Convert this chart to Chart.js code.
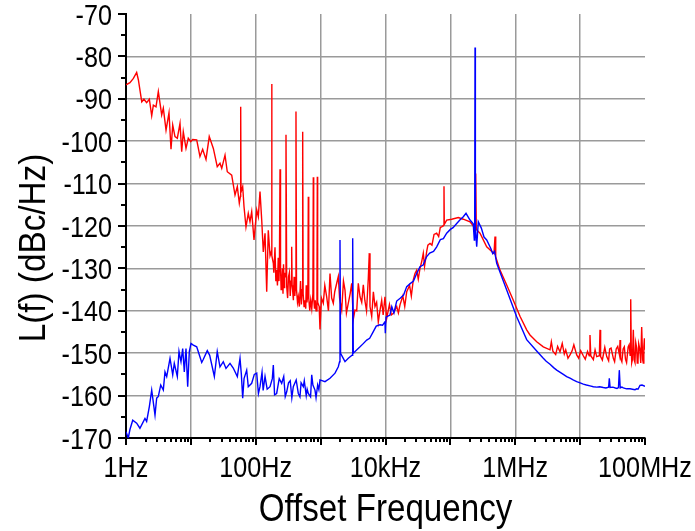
<!DOCTYPE html>
<html>
<head>
<meta charset="utf-8">
<script src="https://cdn.jsdelivr.net/npm/chart.js@4/dist/chart.umd.min.js"></script>
<style>
    body { margin: 0; background: #fff; }
    #wrap { width: 695px; height: 531px; }
</style>
</head>
<body>
<div id="wrap"><canvas id="noiseChart" width="695" height="531"></canvas></div>
<script>
const FONT = "'Liberation Sans', Arial, sans-serif";

// Offset frequency (Hz), phase noise (dBc/Hz)
const redTrace = [
    [1, -86.7], [1.15, -86.2], [1.3, -85.2], [1.46, -83.8], [1.55, -85.5], [1.75, -90.7], [1.89, -90.1],
    [2.08, -90.9], [2.29, -90.1], [2.49, -94.0], [2.64, -91.5], [2.9, -91.9], [3.15, -88.3], [3.55, -93.8],
    [3.76, -92.2], [4.14, -97.4], [4.6, -93.3], [4.94, -101.9], [5.25, -96.2], [5.69, -98.9], [6.18, -99.3],
    [6.8, -95.8], [7.22, -102.5], [7.64, -97.8], [8.41, -101.7], [9.12, -99.3], [9.94, -100.1], [10.67, -99.6],
    [12.3, -99.7], [13.8, -103.6], [15.2, -101.9], [17.1, -104.3], [19.2, -98.9], [22.2, -101.7], [25.5, -106.0],
    [28.1, -105.2], [29.9, -106.4], [33.6, -103.3], [36.4, -107.2], [42.6, -108.0], [47.9, -112.7], [52.0, -110.7],
    [55.8, -114.6], [58.0, -113.0], [58.6, -91.9], [59.3, -112.0], [62.9, -110.7], [65.9, -115.4], [70.7, -120.2],
    [76.7, -117.0], [81.5, -119.0], [86.6, -116.6], [94.0, -123.3], [103.5, -116.2], [109.5, -117.8], [116.3, -111.9],
    [123.6, -118.6], [130.7, -126.1], [139, -121.7], [147.5, -135.5], [156, -121.0], [166, -127.0], [174, -126.0],
    [176, -86.5], [178, -127.0], [186.6, -128.8], [190, -131.0], [198, -125.0], [204, -133.0], [210, -130.4],
    [216, -134.0], [222, -127.5], [228, -133.0], [232, -128.0], [236.6, -106.6], [241, -130.0], [246, -135.0],
    [251, -133.5], [258, -130.0], [263, -136.0], [268, -129.0], [274, -134.5], [279, -131.0], [285, -132.0],
    [292.6, -98.5], [300, -134.3], [310, -137.0], [320, -132.0], [330, -131.0], [340, -136.5], [350, -133.0],
    [358, -124.9], [364, -134.0], [370, -135.1], [380, -137.5], [390, -132.0], [400, -136.5], [410, -134.0],
    [417, -93.0], [425, -135.0], [440, -138.0], [453, -136.7], [470, -139.0], [490, -133.0], [505, -138.5],
    [520, -135.0], [529, -97.8], [538, -136.0], [555, -139.0], [574, -137.5], [590, -139.5], [600, -134.0],
    [615, -138.0], [636, -136.0], [646, -113.1], [656, -137.0], [680, -140.0], [703, -137.5], [730, -139.5],
    [760, -136.0], [771, -108.5], [782, -137.0], [805, -139.5], [828, -137.5], [850, -140.0], [878, -136.0],
    [889, -108.4], [900, -138.0], [950, -139.0], [978, -144.4], [1030, -137.0], [1099, -138.2], [1160, -134.0],
    [1240, -136.7], [1320, -140.0], [1395, -131.2], [1480, -137.0], [1568, -138.2], [1650, -135.5], [1770, -133.5],
    [1873, -131.9], [1960, -137.0], [2113, -139.8], [2250, -133.0], [2375, -135.1], [2500, -140.5], [2671, -138.2],
    [2850, -136.0], [3014, -133.5], [3190, -142.0], [3388, -139.8], [3600, -140.0], [3808, -133.5], [4048, -136.7],
    [4300, -138.0], [4550, -133.9], [4800, -137.5], [5100, -140.0], [5430, -132.4], [5625, -126.4], [5768, -139.0],
    [6126, -141.3], [6500, -135.5], [6887, -139.0], [7300, -138.0], [7745, -142.6], [8200, -140.0], [8735, -137.5],
    [9200, -141.0], [9816, -136.7], [10430, -141.8], [11500, -138.5], [12300, -141.0], [13190, -140.6], [14880, -139.0],
    [15800, -140.5], [16730, -138.6], [18500, -136.5], [19800, -139.0], [21230, -135.5], [23500, -134.0], [25000, -136.5],
    [26810, -132.7], [28500, -131.2], [30260, -130.4], [32000, -132.5], [34020, -130.0], [36000, -128.5], [38260, -126.4],
    [40000, -129.5], [43160, -126.0], [45000, -124.5], [48530, -124.1], [52000, -124.5], [56000, -122.0], [61520, -121.7],
    [66000, -122.5], [70000, -120.3], [73470, -120.2], [79000, -119.8], [79750, -110.6], [80560, -119.6], [87720, -118.6],
    [104800, -118.4], [132500, -118.0], [158200, -118.4], [200800, -119.0], [240000, -120.5], [245600, -107.6],
    [251000, -120.8], [286100, -121.7], [363000, -124.9], [470000, -126.5], [487600, -122.5], [500000, -127.3],
    [582200, -130.4], [738400, -133.9], [933400, -137.5], [1183000, -141.3], [1500000, -144.5], [1687000, -145.7],
    [2141000, -147.3], [2706000, -148.5], [3434000, -149.2], [3600000, -147.3], [3800000, -149.5], [4200000, -150.3],
    [4500000, -148.4], [4898000, -149.7], [5300000, -147.7], [5700000, -150.2], [6000000, -149.2], [6500000, -151.2],
    [6984000, -150.4], [7500000, -149.5], [8000000, -148.0], [8855000, -150.4], [9500000, -151.2], [10200000, -149.4],
    [11190000, -150.6], [12000000, -151.4], [13000000, -149.6], [13800000, -150.6], [14190000, -145.7], [14600000, -150.6],
    [16000000, -151.5], [17000000, -149.2], [18020000, -150.8], [19800000, -150.6], [20250000, -144.5], [20700000, -150.8],
    [22000000, -151.6], [24000000, -148.6], [25700000, -150.8], [27500000, -151.8], [28500000, -149.0], [30000000, -148.8],
    [32500000, -151.2], [34000000, -152.0], [36000000, -149.0], [38000000, -148.4], [40500000, -150.5], [41210000, -146.9],
    [42000000, -151.2], [44000000, -152.0], [46000000, -149.0], [48000000, -148.5], [50000000, -151.4], [52000000, -152.2],
    [55000000, -148.5], [57000000, -148.0], [59000000, -150.5], [60250000, -137.3], [61500000, -149.5], [62500000, -152.2],
    [64000000, -151.5], [66070000, -144.5], [68000000, -151.6], [70000000, -152.2], [72000000, -147.5], [74480000, -148.8],
    [76000000, -152.3], [78000000, -151.8], [80000000, -147.8], [83000000, -149.0], [86000000, -152.3], [88900000, -143.8],
    [92000000, -151.5], [94000000, -152.3], [96000000, -148.5], [98000000, -146.5], [100000000, -149.2]
];

const blueTrace = [
    [1, -168.5], [1.085, -170], [1.15, -168], [1.27, -165.8], [1.46, -166.5], [1.64, -167.7], [1.96, -165.4],
    [2.08, -166.1], [2.29, -162.6], [2.49, -158.7], [2.8, -164.6], [2.97, -160.6], [3.15, -160.2], [3.43, -157.5],
    [3.76, -158.7], [3.99, -154.4], [4.24, -155.5], [4.77, -151.2], [5.25, -155.1], [5.55, -152.4], [6.18, -155.5],
    [6.56, -149.6], [7.04, -152.0], [7.48, -148.9], [7.92, -154.4], [8.41, -148.9], [8.93, -157.9], [9.46, -149.6],
    [10.05, -147.7], [10.9, -148.1], [12.3, -148.5], [14.7, -152.2], [15.5, -151.5], [17.9, -149.4], [19.5, -150.5],
    [23.0, -155.5], [25.5, -149.6], [28.1, -153.2], [31.6, -152.0], [34.8, -153.6], [40.1, -152.4], [45, -153.5],
    [52, -155.5], [57.2, -151.2], [60, -155.0], [62.9, -160.6], [66, -156.0], [72.5, -154.0], [76.7, -157.9],
    [86.6, -157.1], [95, -155.0], [103.5, -154.7], [110, -159.5], [116.3, -157.9], [125, -154.5], [130, -158.8],
    [139, -155.5], [150, -158.5], [166, -157.9], [180, -156.0], [186.6, -152.8], [195, -159.8], [210, -159.5],
    [230, -156.0], [251, -157.1], [270, -155.5], [285, -160.2], [300, -159.1], [320, -157.0], [340, -156.5],
    [360, -160.5], [379, -157.9], [420, -156.3], [453, -159.5], [480, -160.3], [500, -157.0], [541, -157.9],
    [560, -156.5], [600, -160.0], [620, -158.5], [646, -159.5], [700, -160.3], [729, -155.1], [760, -157.5],
    [819, -158.7], [850, -160.5], [900, -157.5], [940, -158.6], [978, -156.3], [1167, -156.7], [1395, -155.9],
    [1667, -154.7], [1873, -153.2], [1960, -152.0], [1989, -123.3], [2030, -150.0], [2160, -150.8], [2375, -152.0],
    [2671, -151.2], [3050, -150.5], [3121, -122.9], [3190, -150.0], [4048, -148.5], [4500, -147.8], [5130, -146.9],
    [5700, -146.5], [6486, -144.9], [7200, -143.6], [8226, -143.3], [9000, -143.4], [9816, -142.6], [9930, -145.3],
    [10180, -141.5], [11720, -141.0], [12500, -139.0], [13500, -140.5], [14880, -137.7], [17000, -137.0],
    [19000, -136.3], [21230, -134.3], [24000, -133.6], [27000, -133.0], [30260, -131.2], [34000, -129.6],
    [38000, -129.2], [43160, -127.2], [48000, -126.4], [55000, -126.0], [61520, -124.9], [70000, -123.2],
    [78000, -123.0], [87720, -121.7], [100000, -120.8], [110000, -120.4], [125200, -119.4], [140000, -118.6],
    [158200, -117.8], [174100, -117.0], [200800, -118.6], [225000, -119.5], [233900, -123.3], [237000, -119.5],
    [239900, -77.9], [243000, -120.0], [254500, -124.9], [269400, -119.0], [300000, -120.5], [330000, -122.6],
    [363000, -123.3], [420000, -125.3], [450000, -126.5], [480000, -126.0], [517700, -128.8], [738400, -135.1],
    [1052000, -141.4], [1500000, -146.8], [2141000, -149.5], [2706000, -151.2], [3000000, -151.9], [3434000, -152.6],
    [3900000, -153.4], [4355000, -154.0], [4800000, -154.4], [5508000, -155.0], [6200000, -155.5], [6984000, -155.9],
    [7800000, -156.3], [8855000, -156.7], [10000000, -157.0], [11190000, -157.3], [12500000, -157.5], [14190000, -157.7],
    [16000000, -157.9], [18020000, -158.0], [20000000, -157.9], [22770000, -158.1], [25000000, -158.2], [27500000, -158.0],
    [28180000, -155.9], [29000000, -158.1], [32000000, -158.0], [35000000, -158.2], [37000000, -158.3], [39000000, -158.1],
    [40180000, -154.0], [41500000, -158.2], [44000000, -158.0], [46350000, -158.2], [52000000, -158.4], [58760000, -158.4],
    [64000000, -158.5], [70150000, -158.6], [74480000, -158.4], [78000000, -158.5], [83750000, -157.6], [90000000, -157.5],
    [100000000, -157.8]
];

const freqLabels = { 1: '1Hz', 100: '100Hz', 10000: '10kHz', 1000000: '1MHz', 100000000: '100MHz' };
const decades = [1, 10, 100, 1000, 10000, 100000, 1000000, 10000000, 100000000];
const xTitle = 'Offset Frequency';
const yTitle = 'L(f) (dBc/Hz)';

const GRID = '#9a9a9a';

// tick marks drawn outside the plot: long at decades / 10 dB, short in between
const axisTicks = {
    id: 'axisTicks',
    afterDraw(chart) {
        const { ctx, chartArea, scales: { x, y } } = chart;
        ctx.save();
        ctx.strokeStyle = '#000';
        ctx.lineWidth = 2;
        ctx.beginPath();
        decades.forEach(d => {
            for (let m = 1; m <= 9; m++) {
                const v = d * m;
                if (v > 1e8) break;
                const px = Math.round(x.getPixelForValue(v));
                ctx.moveTo(px, chartArea.bottom);
                ctx.lineTo(px, chartArea.bottom + (m === 1 ? 7 : 4));
            }
        });
        for (let v = -170; v <= -70; v += 5) {
            const py = Math.round(y.getPixelForValue(v));
            ctx.moveTo(chartArea.left, py);
            ctx.lineTo(chartArea.left - (v % 10 === 0 ? 8 : 5), py);
        }
        ctx.stroke();
        ctx.restore();
    }
};

// axis labels in a slightly condensed face
function putText(ctx, text, px, py, size, squeeze, align, rotate) {
    ctx.save();
    ctx.translate(px, py);
    if (rotate) ctx.rotate(rotate);
    ctx.scale(squeeze, 1);
    ctx.font = size + 'px ' + FONT;
    ctx.fillStyle = '#000';
    ctx.textAlign = align;
    ctx.textBaseline = 'alphabetic';
    ctx.fillText(text, 0, 0);
    ctx.restore();
}

const axisText = {
    id: 'axisText',
    afterDraw(chart) {
        const { ctx, chartArea, scales: { x, y } } = chart;
        y.ticks.forEach(t => {
            putText(ctx, String(t.value), chartArea.left - 14, y.getPixelForValue(t.value) + 10.5, 30, 0.84, 'right');
        });
        x.ticks.forEach(t => {
            const label = freqLabels[t.value];
            if (label) putText(ctx, label, x.getPixelForValue(t.value), chartArea.bottom + 39, 30, 0.84, 'center');
        });
        putText(ctx, xTitle, (chartArea.left + chartArea.right) / 2, chartArea.bottom + 83, 39, 0.85, 'center');
        putText(ctx, yTitle, 45, 248, 37, 0.9, 'center', -Math.PI / 2);
    }
};

const toPoints = arr => arr.map(([f, v]) => ({ x: f, y: v })).sort((a, b) => a.x - b.x);

new Chart(document.getElementById('noiseChart'), {
    type: 'line',
    data: {
        datasets: [
            {
                label: 'red',
                data: toPoints(redTrace),
                borderColor: '#ff0000',
                borderWidth: 1.4,
                pointRadius: 0,
                tension: 0,
                order: 2
            },
            {
                label: 'blue',
                data: toPoints(blueTrace),
                borderColor: '#0000ff',
                borderWidth: 1.4,
                pointRadius: 0,
                tension: 0,
                order: 1
            }
        ]
    },
    options: {
        responsive: false,
        animation: false,
        layout: { padding: { top: 14, right: 50, left: 0, bottom: 0 } },
        plugins: {
            legend: { display: false },
            tooltip: { enabled: false }
        },
        scales: {
            x: {
                type: 'logarithmic',
                min: 1,
                max: 1e8,
                afterBuildTicks: s => { s.ticks = decades.map(v => ({ value: v })); },
                afterFit: s => { s.height = 93; },
                ticks: { display: false },
                grid: {
                    drawTicks: false,
                    lineWidth: 1.5,
                    color: c => (c.tick && c.tick.value > 1 && c.tick.value < 1e8) ? GRID : 'rgba(0,0,0,0)'
                },
                border: { display: true, color: '#000', width: 2 }
            },
            y: {
                min: -170,
                max: -70,
                afterFit: s => { s.width = 126; },
                ticks: { display: false, stepSize: 10 },
                grid: {
                    drawTicks: false,
                    lineWidth: 1.5,
                    color: c => (c.tick && c.tick.value > -170 && c.tick.value < -70) ? GRID : 'rgba(0,0,0,0)'
                },
                border: { display: true, color: '#000', width: 2 }
            }
        }
    },
    plugins: [axisTicks, axisText]
});
</script>
</body>
</html>
